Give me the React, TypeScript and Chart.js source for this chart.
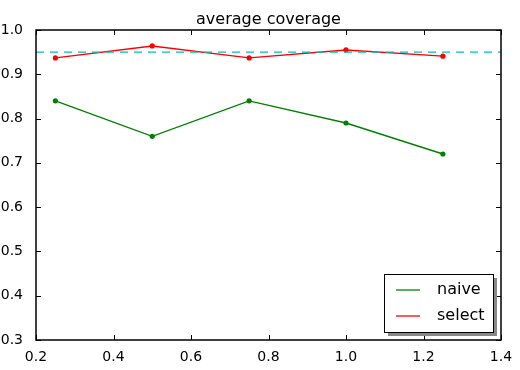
import React, { useEffect, useRef } from "react";
import { Chart, registerables } from "chart.js";

Chart.register(...registerables);

const xValues = [0.25, 0.5, 0.75, 1.0, 1.25];
const naive = [0.84, 0.76, 0.84, 0.79, 0.72];
const select = [0.937, 0.964, 0.937, 0.955, 0.941];
const nominal = 0.95;
const xRange = [0.2, 1.4];
const yRange = [0.3, 1.0];
const titleText = "average coverage";
const seriesNames = ["naive", "select"];
const seriesColors = ["#008000", "#ff0000"];
const nominalColor = "#00bfbf";

const FONT = "'DejaVu Sans', sans-serif";

const framePlugin = {
  id: "mplFrame",
  afterDraw(chart: any) {
    const { ctx, chartArea: a, scales } = chart;
    ctx.save();
    ctx.strokeStyle = "#000";
    ctx.lineWidth = 1;
    const tl = 5;
    scales.x.ticks.forEach((t: any) => {
      const px = Math.round(scales.x.getPixelForValue(t.value)) + 0.5;
      ctx.beginPath();
      ctx.moveTo(px, a.bottom);
      ctx.lineTo(px, a.bottom - tl);
      ctx.moveTo(px, a.top);
      ctx.lineTo(px, a.top + tl);
      ctx.stroke();
    });
    scales.y.ticks.forEach((t: any) => {
      const py = Math.round(scales.y.getPixelForValue(t.value)) + 0.5;
      ctx.beginPath();
      ctx.moveTo(a.left, py);
      ctx.lineTo(a.left + tl, py);
      ctx.moveTo(a.right, py);
      ctx.lineTo(a.right - tl, py);
      ctx.stroke();
    });
    ctx.lineWidth = 1.5;
    ctx.strokeRect(a.left, a.top, a.right - a.left, a.bottom - a.top);
    ctx.fillStyle = "#000";
    ctx.font = `16px ${FONT}`;
    ctx.textAlign = "center";
    ctx.textBaseline = "alphabetic";
    ctx.fillText(titleText, (a.left + a.right) / 2, a.top - 6);
    const bx = 384, by = 274, bw = 109, bh = 58;
    ctx.fillStyle = "#888";
    ctx.fillRect(bx + 4, by + 4, bw, bh);
    ctx.fillStyle = "#fff";
    ctx.fillRect(bx, by, bw, bh);
    ctx.strokeStyle = "#000";
    ctx.lineWidth = 1;
    ctx.strokeRect(bx + 0.5, by + 0.5, bw, bh);
    ctx.textAlign = "left";
    ctx.textBaseline = "middle";
    ctx.font = `16px ${FONT}`;
    seriesNames.forEach((name, i) => {
      const ly = by + 16 + i * 26;
      ctx.strokeStyle = seriesColors[i];
      ctx.lineWidth = 1.3;
      ctx.beginPath();
      ctx.moveTo(bx + 12, ly);
      ctx.lineTo(bx + 36, ly);
      ctx.stroke();
      ctx.fillStyle = "#000";
      ctx.fillText(name, bx + 53, ly);
    });
    ctx.restore();
  },
};

export default function App() {
  const ref = useRef<HTMLCanvasElement>(null);
  useEffect(() => {
    document.body.style.margin = "0";
    const ctx = ref.current!;
    const chart = new Chart(ctx, {
      type: "line",
      data: {
        datasets: [
          {
            label: "nominal",
            data: xRange.map((x) => ({ x, y: nominal })),
            borderColor: nominalColor,
            borderWidth: 1.3,
            borderDash: [8, 6],
            pointRadius: 0,
          },
          {
            label: seriesNames[0],
            data: xValues.map((x, i) => ({ x, y: naive[i] })),
            borderColor: seriesColors[0],
            backgroundColor: seriesColors[0],
            borderWidth: 1.4,
            pointRadius: 2.6,
            pointBorderWidth: 0,
          },
          {
            label: seriesNames[1],
            data: xValues.map((x, i) => ({ x, y: select[i] })),
            borderColor: seriesColors[1],
            backgroundColor: seriesColors[1],
            borderWidth: 1.4,
            pointRadius: 2.6,
            pointBorderWidth: 0,
          },
        ],
      },
      options: {
        responsive: false,
        animation: false,
        events: [],
        layout: { padding: { top: 30, right: 19, left: 0, bottom: 0 } },
        plugins: {
          legend: { display: false },
          title: { display: false },
          tooltip: { enabled: false },
        },
        scales: {
          x: {
            type: "linear",
            min: xRange[0],
            max: xRange[1],
            grid: { display: false },
            border: { display: false },
            ticks: {
              stepSize: 0.2,
              color: "#000",
              font: { family: FONT, size: 14 },
              padding: 1,
              maxRotation: 0,
              callback: (v: any) => Number(v).toFixed(1),
            },
            afterFit: (s: any) => {
              s.height = 30;
            },
          },
          y: {
            type: "linear",
            min: yRange[0],
            max: yRange[1],
            grid: { display: false },
            border: { display: false },
            ticks: {
              stepSize: 0.1,
              color: "#000",
              font: { family: FONT, size: 14 },
              padding: 5,
              callback: (v: any) => Number(v).toFixed(1),
            },
            afterFit: (s: any) => {
              s.width = 36;
            },
          },
        },
      },
      plugins: [framePlugin],
    });
    return () => chart.destroy();
  }, []);
  return (
    <div style={{ position: "absolute", left: 0, top: 0, width: 520, height: 370, background: "#fff" }}>
      <canvas ref={ref} width={520} height={370} />
    </div>
  );
}
